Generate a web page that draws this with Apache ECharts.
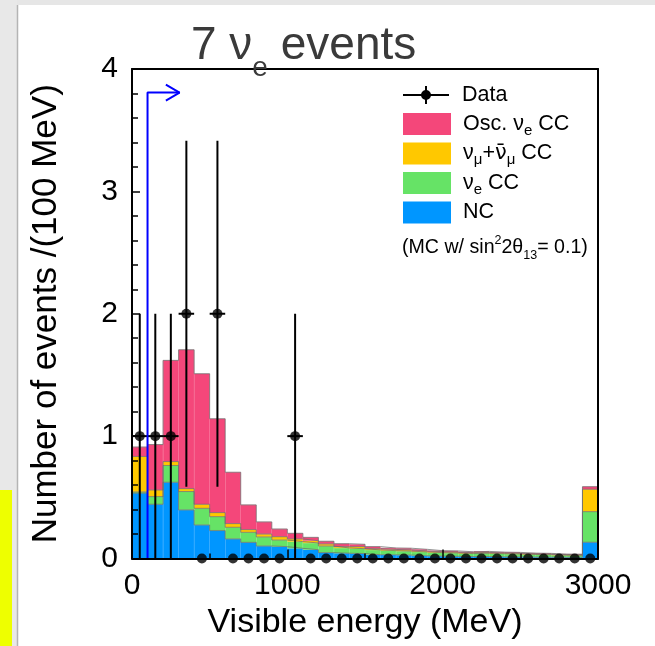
<!DOCTYPE html>
<html>
<head>
<meta charset="utf-8">
<script src="https://cdn.jsdelivr.net/npm/echarts@6/dist/echarts.min.js"></script>
<style>
html,body{margin:0;padding:0;background:#fff;}
#chart{width:655px;height:646px;}
</style>
</head>
<body>
<div id="chart"></div>
<script>
// ---- data ----
const binCenters = [50,150,250,350,450,550,650,750,850,950,1050,1150,1250,1350,1450,1550,1650,1750,1850,1950,2050,2150,2250,2350,2450,2550,2650,2750,2850,2950];
const ncValues = [0.534,0.443,0.623,0.397,0.274,0.228,0.160,0.132,0.102,0.097,0.083,0.072,0.048,0.043,0.040,0.031,0.030,0.028,0.022,0.020,0.018,0.016,0.016,0.014,0.013,0.012,0.011,0.010,0.010,0.133];
const nueCCValues = [0.010,0.063,0.137,0.150,0.136,0.114,0.095,0.082,0.074,0.054,0.055,0.055,0.054,0.043,0.040,0.039,0.034,0.032,0.032,0.028,0.027,0.024,0.027,0.025,0.024,0.021,0.020,0.017,0.016,0.250];
const numuCCValues = [0.290,0.054,0.032,0.024,0.033,0.033,0.030,0.022,0.024,0.027,0.022,0.018,0.017,0.011,0.017,0.010,0.010,0.010,0.008,0.008,0.007,0.007,0.007,0.006,0.006,0.005,0.005,0.004,0.004,0.183];
const oscValues = [0.077,0.371,0.827,1.135,1.067,0.767,0.420,0.202,0.099,0.063,0.046,0.028,0.022,0.024,0.019,0.017,0.012,0.014,0.013,0.008,0.010,0.008,0.008,0.007,0.007,0.006,0.006,0.005,0.005,0.021];
const dataCounts = [1,1,1,2,0,2,0,0,0,0,1,0,0,0,0,0,0,0,0,0,0,0,0,0,0,0,0,0,0,0];
const xTicks = [0,1000,2000,3000];
const yTicks = [0,1,2,3,4];
const cutArrowX = [100,100,306];
const cutArrowY = [0,3.807,3.807];
const arrowHeadX = [218,306,218];
const arrowHeadY = [3.872,3.807,3.742];
const binHalfWidth = 50;

const FONT = 'Liberation Sans, Arial, Helvetica, sans-serif';
const COL = {nc:'#0096ff', nue:'#66e366', numu:'#ffc800', osc:'#f4477a'};

// cumulative stacks for outline
function cumulate(lists){
  return binCenters.map((_, i) => lists.reduce((s, l) => s + l[i], 0));
}
const cum1 = cumulate([ncValues]);
const cum2 = cumulate([ncValues, nueCCValues]);
const cum3 = cumulate([ncValues, nueCCValues, numuCCValues]);
const cum4 = cumulate([ncValues, nueCCValues, numuCCValues, oscValues]);
function stepData(cum){
  const d = binCenters.map((c, i) => [c - binHalfWidth, cum[i]]);
  d.push([binCenters[binCenters.length-1] + binHalfWidth, cum[cum.length-1]]);
  return d;
}

const names = {
  data: 'Data',
  osc: 'Osc. νe CC',
  numu: 'νμ+anti-νμ CC',
  nue: 'νe CC',
  nc: 'NC'
};
const richNames = {};
richNames[names.data] = '{t|Data}';
richNames[names.osc] = '{t|Osc. ν}{s|e}{t| CC}';
richNames[names.numu] = '{t|ν}{s|μ}{t|+}{o|ν\u0304}{s|μ}{t| CC}';
richNames[names.nue] = '{t|ν}{s|e}{t| CC}';
richNames[names.nc] = '{t|NC}';

const dataIcon = 'path://M0,9L46,9L46,11L0,11Z M22,1L24,1L24,19L22,19Z M28,10A5,5,0,1,1,18,10A5,5,0,1,1,28,10Z';

const legendOrder = [
  {name: names.data, icon: dataIcon},
  {name: names.osc, icon: 'rect'},
  {name: names.numu, icon: 'rect'},
  {name: names.nue, icon: 'rect'},
  {name: names.nc, icon: 'rect'}
];
const legendTops = [84, 113, 142.5, 172, 201.5];

function makeLegend(item, top){
  return {
    orient: 'vertical', left: 403, top: top, padding: 0,
    itemWidth: 46, itemHeight: 20, itemGap: 0, selectedMode: false,
    data: [item],
    formatter: function(n){ return richNames[n] || n; },
    textStyle: {
      fontSize: 21.5, color: '#000', fontFamily: FONT, padding: [0, 0, 0, 8],
      rich: {
        t: {fontSize: 21.5, lineHeight: 28, verticalAlign: 'middle', color: '#000', fontFamily: FONT},
        o: {fontSize: 21, lineHeight: 28, verticalAlign: 'middle', color: '#000', fontFamily: 'DejaVu Sans, sans-serif'},
        s: {fontSize: 15, lineHeight: 15, verticalAlign: 'bottom', color: '#000', fontFamily: FONT}
      }
    }
  };
}

function barSeries(name, values, color){
  return {
    name: name, type: 'bar', stack: 'mc',
    xAxisIndex: 1, yAxisIndex: 0,
    data: values, barWidth: '100%', barCategoryGap: '0%',
    itemStyle: {color: color, borderColor: color, borderWidth: 0.4},
    emphasis: {disabled: true}, silent: true, z: 2
  };
}
function outlineSeries(cum){
  return {
    type: 'line', xAxisIndex: 0, yAxisIndex: 0, step: 'end',
    data: stepData(cum), symbol: 'none', silent: true,
    lineStyle: {color: 'rgba(110,110,110,0.75)', width: 1}, z: 3
  };
}

const chart = echarts.init(document.getElementById('chart'), null, {renderer: 'canvas'});
const option = {
  animation: false,
  backgroundColor: '#ffffff',
  textStyle: {fontFamily: FONT},
  grid: {left: 132, right: 57, top: 69, bottom: 87.5, containLabel: false, outerBoundsMode: 'none'},
  graphic: [
    {type: 'rect', z: -10, shape: {x: 0, y: 0, width: 655, height: 5}, style: {fill: '#e6e6e6'}},
    {type: 'rect', z: -10, shape: {x: 0, y: 0, width: 17, height: 646}, style: {fill: '#e8e8e8'}},
    {type: 'rect', z: -9, shape: {x: 0, y: 490, width: 12, height: 156}, style: {fill: '#eeff00'}},
    {type: 'line', z: -9, shape: {x1: 17.5, y1: 5, x2: 17.5, y2: 646}, style: {stroke: '#b4b4b4', lineWidth: 1.5}},
    {type: 'text', x: 191, y: 10, z: 20,
      style: {
        text: '{a|7 ν}{s|e}{a| events}', verticalAlign: 'top', align: 'left',
        rich: {
          a: {fontSize: 46, lineHeight: 72, verticalAlign: 'middle', fill: '#3a3a3a', color: '#3a3a3a', fontFamily: FONT},
          s: {fontSize: 28, lineHeight: 28, verticalAlign: 'bottom', fill: '#3a3a3a', color: '#3a3a3a', fontFamily: FONT}
        }
      }
    },
    {type: 'text', x: 402, y: 248, z: 20,
      style: {
        text: '{a|(MC w/ sin}{p|2}{a|2θ}{b|13}{a|= 0.1)}', verticalAlign: 'middle', align: 'left',
        rich: {
          a: {fontSize: 19.6, lineHeight: 28, verticalAlign: 'middle', fill: '#000', color: '#000', fontFamily: FONT},
          p: {fontSize: 12.5, lineHeight: 12, verticalAlign: 'top', fill: '#000', color: '#000', fontFamily: FONT},
          b: {fontSize: 12.5, lineHeight: 12, verticalAlign: 'bottom', fill: '#000', color: '#000', fontFamily: FONT}
        }
      }
    }
  ],
  legend: legendOrder.map((it, i) => makeLegend(it, legendTops[i])),
  xAxis: [
    {
      type: 'value', min: 0, max: 3000, interval: 1000, position: 'bottom', z: 10,
      axisLine: {show: true, onZero: false, lineStyle: {color: '#000', width: 2}},
      axisTick: {show: true, inside: true, length: 9, lineStyle: {color: '#000', width: 1.5}},
      minorTick: {show: true, splitNumber: 2, length: 5, lineStyle: {color: '#000', width: 1.5}},
      axisLabel: {fontSize: 30, margin: 12, color: '#000', fontFamily: FONT,
        formatter: function(v){ return xTicks.indexOf(v) >= 0 ? String(v) : ''; }},
      splitLine: {show: false},
      name: 'Visible energy (MeV)', nameLocation: 'middle', nameGap: 37,
      nameTextStyle: {fontSize: 34, color: '#000', fontFamily: FONT}
    },
    {type: 'category', data: binCenters, show: false, boundaryGap: true},
    {
      type: 'value', min: 0, max: 3000, position: 'top', z: 10,
      axisLine: {show: true, onZero: false, lineStyle: {color: '#000', width: 2}},
      axisTick: {show: false}, axisLabel: {show: false}, splitLine: {show: false}
    }
  ],
  yAxis: [
    {
      type: 'value', min: 0, max: 4, interval: 1, position: 'left', z: 10,
      axisLine: {show: true, onZero: false, lineStyle: {color: '#000', width: 2}},
      axisTick: {show: true, inside: true, length: 8, lineStyle: {color: '#000', width: 1.5}},
      minorTick: {show: true, splitNumber: 5, length: 6, lineStyle: {color: '#000', width: 1.5}},
      axisLabel: {fontSize: 30, margin: 14, color: '#000', fontFamily: FONT,
        formatter: function(v){ return yTicks.indexOf(v) >= 0 ? String(v) : ''; }},
      splitLine: {show: false},
      name: 'Number of events /(100 MeV)', nameLocation: 'middle', nameGap: 68,
      nameTextStyle: {fontSize: 35, color: '#000', fontFamily: FONT}
    },
    {
      type: 'value', min: 0, max: 4, position: 'right', z: 10,
      axisLine: {show: true, onZero: false, lineStyle: {color: '#000', width: 2}},
      axisTick: {show: false}, axisLabel: {show: false}, splitLine: {show: false}
    }
  ],
  series: [
    barSeries(names.nc, ncValues, COL.nc),
    barSeries(names.nue, nueCCValues, COL.nue),
    barSeries(names.numu, numuCCValues, COL.numu),
    barSeries(names.osc, oscValues, COL.osc),
    outlineSeries(cum1), outlineSeries(cum2), outlineSeries(cum3), outlineSeries(cum4),
    {
      name: names.data, type: 'custom', xAxisIndex: 0, yAxisIndex: 0, z: 5, silent: true,
      itemStyle: {color: '#000'},
      data: dataCounts.map((n, i) => [binCenters[i], n, Math.sqrt(n)]),
      encode: {x: 0, y: 1},
      renderItem: function(params, api){
        const x = api.value(0), y = api.value(1), e = api.value(2);
        if (!(e > 0)) return {type: 'group', children: []};
        const top = api.coord([x, y + e]), bot = api.coord([x, y - e]);
        const l = api.coord([x - binHalfWidth, y]), r = api.coord([x + binHalfWidth, y]);
        const st = {stroke: '#000', lineWidth: 2};
        return {type: 'group', children: [
          {type: 'line', shape: {x1: top[0], y1: top[1], x2: bot[0], y2: bot[1]}, style: st},
          {type: 'line', shape: {x1: l[0], y1: l[1], x2: r[0], y2: r[1]}, style: st}
        ]};
      }
    },
    {
      name: names.data, type: 'scatter', xAxisIndex: 0, yAxisIndex: 0, z: 6, silent: true,
      symbol: 'circle', symbolSize: 10, itemStyle: {color: '#000'},
      data: dataCounts.map((n, i) => [binCenters[i], n])
    },
    {
      type: 'line', xAxisIndex: 0, yAxisIndex: 0, z: 7, silent: true, symbol: 'none',
      data: cutArrowX.map((x, i) => [x, cutArrowY[i]]),
      lineStyle: {color: '#0000ff', width: 2}
    },
    {
      type: 'line', xAxisIndex: 0, yAxisIndex: 0, z: 7, silent: true, symbol: 'none',
      data: arrowHeadX.map((x, i) => [x, arrowHeadY[i]]),
      lineStyle: {color: '#0000ff', width: 2}
    }
  ]
};
chart.setOption(option);
</script>
</body>
</html>
